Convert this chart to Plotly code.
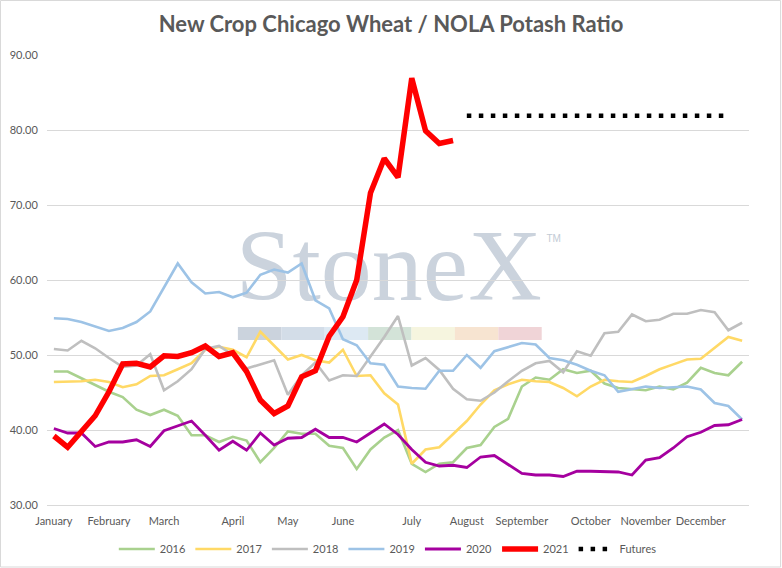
import plotly.graph_objects as go

# ---------------- data (weekly, 51 weeks) ----------------
weeks = list(range(51))
month_labels = ["January", "February", "March", "April", "May", "June", "July",
                "August", "September", "October", "November", "December"]
month_weeks = [0, 4, 8, 13, 17, 21, 26, 30, 34, 39, 43, 47]

y2016 = [47.8, 47.8, 46.9, 46.0, 45.1, 44.4, 42.7, 42.0, 42.7, 41.9,
         39.3, 39.3, 38.4, 39.1, 38.6, 35.7, 37.6, 39.8, 39.5, 39.5,
         37.9, 37.6, 34.8, 37.4, 39.0, 40.0, 35.5, 34.4, 35.5, 35.7,
         37.6, 38.0, 40.4, 41.5, 45.8, 47.0, 46.7, 48.1, 47.6, 47.9,
         46.2, 45.6, 45.4, 45.3, 45.8, 45.4, 46.3, 48.3, 47.6, 47.3, 49.1]
y2017 = [46.4, 46.4, 46.5, 46.7, 46.4, 45.7, 46.1, 47.2, 47.3, 48.1,
         48.9, 50.7, 51.1, 50.7, 49.7, 53.1, 51.3, 49.4, 50.0, 49.3,
         49.0, 50.7, 47.2, 47.3, 44.9, 43.4, 35.5, 37.4, 37.7, 39.5,
         41.2, 43.4, 45.3, 46.1, 46.7, 46.5, 46.4, 45.6, 44.5, 45.8,
         46.7, 46.5, 46.4, 47.2, 48.1, 48.75, 49.4, 49.5, 51.0, 52.4, 51.9]
y2018 = [50.8, 50.6, 51.9, 50.9, 49.6, 48.4, 48.6, 50.1, 45.3, 46.5,
         48.1, 50.8, 51.2, 50.0, 48.2, 48.8, 49.3, 44.7, 47.3, 49.0,
         46.6, 47.3, 47.2, 49.8, 52.4, 55.2, 48.6, 49.6, 48.0, 45.5,
         44.1, 43.9, 45.0, 46.5, 47.9, 48.9, 49.2, 47.7, 50.5, 49.9,
         52.9, 53.1, 55.4, 54.5, 54.7, 55.5, 55.5, 56.0, 55.7, 53.3, 54.3]
y2019 = [54.9, 54.8, 54.4, 53.8, 53.2, 53.6, 54.4, 55.8, 59.0, 62.2,
         59.7, 58.2, 58.4, 57.7, 58.3, 60.7, 61.4, 61.0, 62.2, 57.3,
         56.2, 52.1, 51.3, 48.9, 48.7, 45.8, 45.6, 45.5, 47.9, 47.9,
         50.0, 48.3, 50.5, 51.1, 51.6, 51.4, 49.6, 49.3, 48.7, 47.9,
         47.3, 45.1, 45.5, 45.8, 45.6, 45.7, 45.8, 45.4, 43.6, 43.2, 41.4]
y2020 = [40.2, 39.6, 39.6, 37.8, 38.4, 38.4, 38.7, 37.8, 39.9, 40.5,
         41.2, 39.3, 37.3, 38.5, 37.3, 39.6, 38.0, 38.9, 39.0, 40.1,
         39.0, 39.0, 38.4, 39.6, 40.8, 39.4, 37.4, 35.7, 35.2, 35.3,
         35.0, 36.4, 36.6, 35.4, 34.2, 34.0, 34.0, 33.8, 34.5, 34.5,
         34.4, 34.4, 34.0, 36.0, 36.3, 37.6, 39.1, 39.7, 40.6, 40.7, 41.4]
y2021 = [39.2, 37.7, 39.8, 41.9, 45.1, 48.8, 48.9, 48.4, 49.9, 49.8,
         50.3, 51.2, 49.8, 50.3, 47.8, 44.0, 42.2, 43.2, 47.1, 47.9,
         52.5, 55.1, 60.0, 71.6, 76.2, 73.7, 86.9, 79.9, 78.2, 78.6]
futures_weeks = list(range(30, 50))
futures = [81.9] * 20

# ---------------- figure ----------------
W, H = 782, 568
PL, PR, PT, PB = 47, 749.4, 55, 505


def px(x):
    return (x - PL) / (PR - PL)


def py(y):
    return (PB - y) / (PB - PT)


FONT = "Lato"
GREY = "#595959"

fig = go.Figure()
series = [
    ("2016", y2016, "#A9D18E", 2.6),
    ("2017", y2017, "#FFD966", 2.6),
    ("2018", y2018, "#BFBFBF", 2.6),
    ("2019", y2019, "#9DC3E6", 2.6),
    ("2020", y2020, "#A5009F", 2.8),
]
for name, vals, col, w in series:
    fig.add_trace(go.Scatter(x=weeks[:len(vals)], y=vals, name=name, mode="lines",
                             line=dict(color=col, width=w)))
fig.add_trace(go.Scatter(x=weeks[:len(y2021)], y=y2021, name="2021", mode="lines",
                         line=dict(color="#FF0000", width=5.5)))
fig.add_trace(go.Scatter(x=futures_weeks, y=futures, name="Futures", mode="lines",
                         line=dict(color="#000000", width=4.5, dash="4.5px,7.5px")))

shapes = []
# chart border
shapes.append(dict(type="rect", xref="paper", yref="paper",
                   x0=px(0.5), x1=px(781), y0=py(567), y1=py(0.5),
                   line=dict(color="#D9D9D9", width=1), fillcolor="rgba(0,0,0,0)",
                   layer="above"))
# watermark colour bar
bar_cols = ["#CBD3DD", "#D3DDE8", "#DDE9F3", "#D3E3D8", "#F6F5DF", "#F7E4D1", "#F0D4D7"]
seg = (542 - 238) / 7
for k, c in enumerate(bar_cols):
    shapes.append(dict(type="rect", xref="paper", yref="paper",
                       x0=px(238 + k * seg), x1=px(238 + (k + 1) * seg),
                       y0=py(340), y1=py(327), fillcolor=c, line=dict(width=0),
                       layer="between"))
# watermark text
shapes.append(dict(type="rect", xref="paper", yref="paper",
                   x0=px(230), x1=px(548), y0=py(306), y1=py(202),
                   fillcolor="rgba(0,0,0,0)", line=dict(width=0), layer="between",
                   label=dict(text="StoneX", textposition="middle center",
                              font=dict(family="Liberation Serif", size=102, color="#CBD3DD"))))
shapes.append(dict(type="rect", xref="paper", yref="paper",
                   x0=px(543), x1=px(565), y0=py(245), y1=py(229),
                   fillcolor="rgba(0,0,0,0)", line=dict(width=0), layer="between",
                   label=dict(text="TM", textposition="middle center",
                              font=dict(family="Liberation Sans", size=10, color="#C3CBD5"))))

fig.update_layout(
    width=W, height=H, autosize=False,
    margin=dict(l=PL, r=W - PR, t=PT, b=H - PB, pad=0, autoexpand=False),
    paper_bgcolor="white", plot_bgcolor="white",
    font=dict(family=FONT, color=GREY, size=11),
    title=dict(text="<b>New Crop Chicago Wheat / NOLA Potash Ratio</b>",
               x=0.5, xanchor="center", xref="container",
               y=1 - 24 / H, yanchor="middle", yref="container",
               font=dict(family=FONT, size=22, color=GREY)),
    showlegend=True,
    legend=dict(orientation="h", x=px(388), xanchor="center",
                y=py(549), yanchor="middle", yref="paper",
                font=dict(family=FONT, size=11, color=GREY),
                itemwidth=36, traceorder="normal", bgcolor="rgba(0,0,0,0)"),
    shapes=shapes,
)
fig.update_xaxes(range=[-0.5, 50.5], tickmode="array", tickvals=month_weeks,
                 ticktext=month_labels, showgrid=False, zeroline=False,
                 showline=True, linecolor="#D9D9D9", linewidth=1, ticks="",
                 tickangle=0, automargin=False,
                 ticklabelstandoff=6, tickfont=dict(size=11, color=GREY))
fig.update_yaxes(range=[30, 90], dtick=10, tickformat=".2f", showgrid=True,
                 gridcolor="#D9D9D9", gridwidth=1, zeroline=False, showline=False,
                 ticks="outside", ticklen=6, tickcolor="rgba(0,0,0,0)", automargin=False,
                 tickfont=dict(size=11, color=GREY))

fig.write_html("out.html", config={"displayModeBar": False},
               post_script="document.body.style.margin='0';document.body.style.overflow='hidden';")
